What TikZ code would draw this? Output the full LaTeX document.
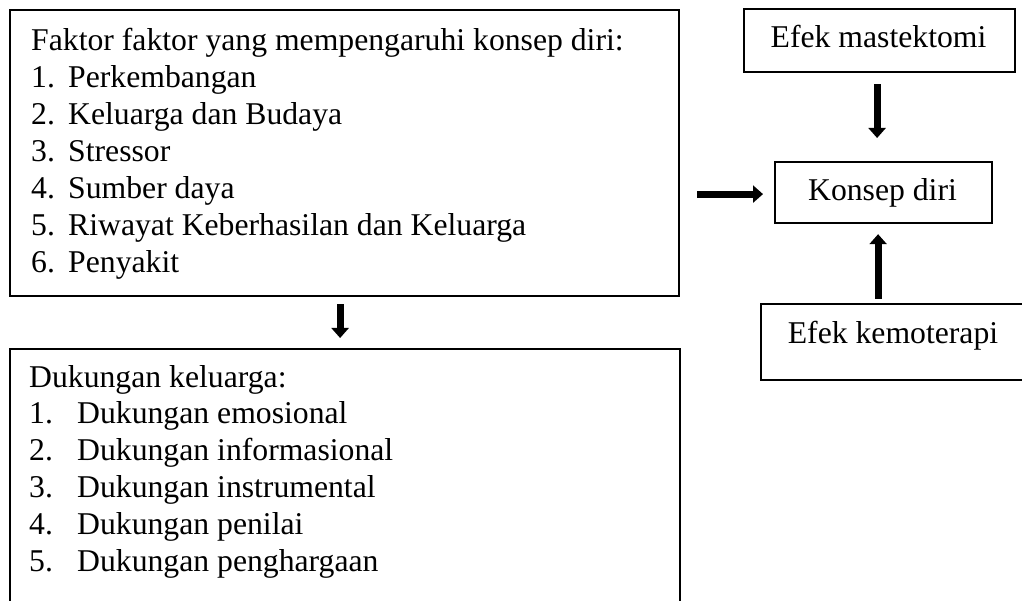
\documentclass[tikz,border=0pt]{standalone}
\usepackage{fontspec}
\setmainfont{Liberation Serif}
\usetikzlibrary{arrows.meta}
\begin{document}
\begin{tikzpicture}[x=1pt,y=-1pt,
  box/.style={draw, line width=2.2pt, fill=white, inner sep=0pt, rectangle},
  txt/.style={anchor=base west, inner sep=0pt, font=\fontsize{31.7}{37}\selectfont},
  ctxt/.style={anchor=base, inner sep=0pt, font=\fontsize{31.7}{37}\selectfont},
  arr/.style={line width=7pt, -{Triangle[length=10pt,width=17pt]}}]
\clip (0,0) rectangle (1022,601);
\fill[white] (0,0) rectangle (1022,601);
% boxes
\node[box, anchor=north west, minimum width=669pt, minimum height=286pt] (fak) at (9,9) {};
\node[box, anchor=north west, minimum width=670pt, minimum height=300pt] (duk) at (9,348) {};
\node[box, anchor=north west, minimum width=271pt, minimum height=63pt] (mast) at (743,8) {};
\node[box, anchor=north west, minimum width=217pt, minimum height=61pt] (konsep) at (774,161) {};
\node[box, anchor=north west, minimum width=300pt, minimum height=76pt] (kemo) at (760,303) {};
% texts of the factor box
\node[txt] (f0) at (31,51) {Faktor faktor yang mempengaruhi konsep diri:};
\foreach \i/\t in {1/Perkembangan,2/Keluarga dan Budaya,3/Stressor,4/Sumber daya,5/Riwayat Keberhasilan dan Keluarga,6/Penyakit}{
  \node[txt] (fn\i) at (31,51+37*\i) {\i.};
  \node[txt] (f\i) at (68,51+37*\i) {\t};
}
% texts of the support box
\node[txt] (d0) at (29,387) {Dukungan keluarga:};
\foreach \i/\t in {1/Dukungan emosional,2/Dukungan informasional,3/Dukungan instrumental,4/Dukungan penilai,5/Dukungan penghargaan}{
  \node[txt] (dn\i) at (29,386+37*\i) {\i.};
  \node[txt] (d\i) at (77,386+37*\i) {\t};
}
% right texts
\node[ctxt] (tmast) at (878.5,48) {Efek mastektomi};
\node[ctxt] (tkonsep) at (882.5,201) {Konsep diri};
\node[ctxt] (tkemo) at (893,343) {Efek kemoterapi};
% arrows
\draw[arr, shorten <=11pt, shorten >=23pt] ([xshift=-2.5pt]mast.south) -- ([xshift=-6.5pt]konsep.north);
\draw[arr, shorten <=4pt, shorten >=10pt] ([xshift=-33pt]kemo.north) -- ([xshift=-5.5pt]konsep.south);
\draw[arr, shorten <=17pt, shorten >=11pt] ([yshift=-41pt]fak.east) -- ([yshift=-1.5pt]konsep.west);
\draw[arr, shorten <=7pt, shorten >=10pt] ([xshift=-4.5pt]fak.south) -- ([xshift=-5pt]duk.north);
\end{tikzpicture}
\end{document}
